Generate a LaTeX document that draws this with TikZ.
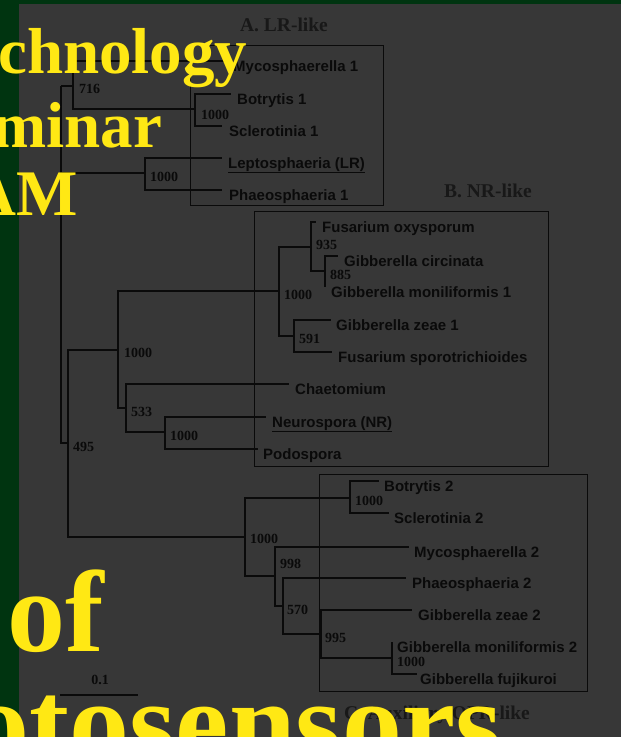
\documentclass[tikz,border=0pt]{standalone}
\usepackage{fontspec}
\setmainfont{Liberation Serif}
\newfontfamily\arialfont{Liberation Sans}
\definecolor{slidegreen}{RGB}{0,52,16}
\definecolor{panelgray}{RGB}{55,55,55}
\definecolor{titleyellow}{RGB}{255,232,20}
\definecolor{inkblack}{RGB}{10,10,10}
\definecolor{labelgray}{RGB}{24,24,24}
\begin{document}
\begin{tikzpicture}[x=1pt,y=-1pt,
  branch/.style={draw=inkblack,line width=1.2pt},
  cladebox/.style={draw=inkblack,line width=1pt},
  taxon/.style={anchor=base west,inner sep=0pt,text=inkblack,font=\arialfont\bfseries\fontsize{15}{18}\selectfont},
  boot/.style={anchor=west,inner sep=0pt,text=inkblack,font=\bfseries\fontsize{14}{16}\selectfont},
  cladename/.style={anchor=base,inner sep=0pt,text=labelgray,font=\bfseries\fontsize{19.5}{22}\selectfont},
  title/.style={anchor=base west,inner sep=0pt,text=titleyellow,font=\bfseries\fontsize{65}{70}\selectfont},
  bigtitle/.style={title,font=\bfseries\fontsize{116}{120}\selectfont}]
\useasboundingbox (0,0) rectangle (621,737);
\fill[slidegreen] (0,0) rectangle (621,737);
\fill[panelgray] (19,4) rectangle (621,737);
\clip (0,0) rectangle (621,737);
% clade boxes
\draw[cladebox] (190,45) rectangle (383,205);
\draw[cladebox] (254,211) rectangle (548,466);
\draw[cladebox] (319,474) rectangle (587,691);
\node[cladename] (nameA) at (284,31) {A. LR-like};
\node[cladename] (nameB) at (488,197) {B. NR-like};
\node[cladename] (nameC) at (437,719) {C. Auxiliary OPR-like};
% inner nodes
\coordinate (root) at (61,86);
\coordinate (n716) at (73,86);
\coordinate (nbs1) at (195,109);
\coordinate (nlep) at (145,173);
\coordinate (n495) at (68,443);
\coordinate (nnr) at (118,350);
\coordinate (nfus) at (279,291);
\coordinate (n935) at (311,247);
\coordinate (n885) at (325,271);
\coordinate (n591) at (294,336);
\coordinate (n533) at (126,408);
\coordinate (nneu) at (165,432);
\coordinate (naux) at (245,537);
\coordinate (nbs2) at (350,498);
\coordinate (n998) at (275,576);
\coordinate (n570) at (283,606);
\coordinate (n995) at (321,634);
\coordinate (ngib) at (392,658);
% tips
\coordinate (myco1) at (229,61);
\coordinate (bot1) at (231,94);
\coordinate (scl1) at (222,126);
\coordinate (lep) at (222,158);
\coordinate (pha1) at (222,190);
\coordinate (fox) at (316,222);
\coordinate (gci) at (338,256);
\coordinate (gmo1) at (325,287);
\coordinate (gze1) at (331,320);
\coordinate (fsp) at (332,352);
\coordinate (cha) at (289,384);
\coordinate (neu) at (266,417);
\coordinate (pod) at (258,449);
\coordinate (bot2) at (379,481);
\coordinate (scl2) at (389,513);
\coordinate (myc2) at (409,547);
\coordinate (pha2) at (406,578);
\coordinate (gze2) at (412,610);
\coordinate (gmo2) at (392,642);
\coordinate (gfu) at (417,674);
% branches
\draw[branch] (root) |- (n716);
\draw[branch] (root) |- (nlep);
\draw[branch] (root) |- (n495);
\draw[branch] (n716) |- (myco1);
\draw[branch] (n716) |- (nbs1);
\draw[branch] (nbs1) |- (bot1);
\draw[branch] (nbs1) |- (scl1);
\draw[branch] (nlep) |- (lep);
\draw[branch] (nlep) |- (pha1);
\draw[branch] (n495) |- (nnr);
\draw[branch] (n495) |- (naux);
\draw[branch] (nnr) |- (nfus);
\draw[branch] (nnr) |- (n533);
\draw[branch] (nfus) |- (n935);
\draw[branch] (nfus) |- (n591);
\draw[branch] (n935) |- (fox);
\draw[branch] (n935) |- (n885);
\draw[branch] (n885) |- (gci);
\draw[branch] (n885) |- (gmo1);
\draw[branch] (n591) |- (gze1);
\draw[branch] (n591) |- (fsp);
\draw[branch] (n533) |- (cha);
\draw[branch] (n533) |- (nneu);
\draw[branch] (nneu) |- (neu);
\draw[branch] (nneu) |- (pod);
\draw[branch] (naux) |- (nbs2);
\draw[branch] (naux) |- (n998);
\draw[branch] (nbs2) |- (bot2);
\draw[branch] (nbs2) |- (scl2);
\draw[branch] (n998) |- (myc2);
\draw[branch] (n998) |- (n570);
\draw[branch] (n570) |- (pha2);
\draw[branch] (n570) |- (n995);
\draw[branch] (n995) |- (gze2);
\draw[branch] (n995) |- (ngib);
\draw[branch] (ngib) |- (gmo2);
\draw[branch] (ngib) |- (gfu);
% taxa
\node[taxon] (tmyco1) at (233,71) {Mycosphaerella 1};
\node[taxon] (tbot1) at (237,104) {Botrytis 1};
\node[taxon] (tscl1) at (229,136) {Sclerotinia 1};
\node[taxon] (tlep) at (228,168) {\underline{Leptosphaeria (LR)}};
\node[taxon] (tpha1) at (229,200) {Phaeosphaeria 1};
\node[taxon] (tfox) at (322,232) {Fusarium oxysporum};
\node[taxon] (tgci) at (344,266) {Gibberella circinata};
\node[taxon] (tgmo1) at (331,297) {Gibberella moniliformis 1};
\node[taxon] (tgze1) at (336,330) {Gibberella zeae 1};
\node[taxon] (tfsp) at (338,362) {Fusarium sporotrichioides};
\node[taxon] (tcha) at (295,394) {Chaetomium};
\node[taxon] (tneu) at (272,427) {\underline{Neurospora (NR)}};
\node[taxon] (tpod) at (263,459) {Podospora};
\node[taxon] (tbot2) at (384,491) {Botrytis 2};
\node[taxon] (tscl2) at (394,523) {Sclerotinia 2};
\node[taxon] (tmyc2) at (414,557) {Mycosphaerella 2};
\node[taxon] (tpha2) at (412,588) {Phaeosphaeria 2};
\node[taxon] (tgze2) at (418,620) {Gibberella zeae 2};
\node[taxon] (tgmo2) at (397,652) {Gibberella moniliformis 2};
\node[taxon] (tgfu) at (420,684) {Gibberella fujikuroi};
% bootstrap values
\node[boot] (b716) at (79,89) {716};
\node[boot] (bbs1) at (201,115) {1000};
\node[boot] (blep) at (150,177) {1000};
\node[boot] (b495) at (73,447) {495};
\node[boot] (bnr) at (124,353) {1000};
\node[boot] (bfus) at (284,295) {1000};
\node[boot] (b935) at (316,245) {935};
\node[boot] (b885) at (330,275) {885};
\node[boot] (b591) at (299,339) {591};
\node[boot] (b533) at (131,412) {533};
\node[boot] (bneu) at (170,436) {1000};
\node[boot] (baux) at (250,539) {1000};
\node[boot] (bbs2) at (355,501) {1000};
\node[boot] (b998) at (280,564) {998};
\node[boot] (b570) at (287,610) {570};
\node[boot] (b995) at (325,638) {995};
\node[boot] (bgib) at (397,662) {1000};
% scale bar
\coordinate (sbleft) at (60,695);
\coordinate (sbright) at (138,695);
\draw[branch] (sbleft) -- (sbright);
\node[boot,anchor=base] (sblabel) at (100,684) {0.1};
% slide title on top
\node[title] (ttech) at (-2,73) {chnology};
\node[title] (tsem) at (-8,147) {minar};
\node[title,anchor=base east] (tam) at (78,215) {AM};
\node[bigtitle] (tof) at (7,651) {of};
\node[bigtitle,font=\bfseries\fontsize{120}{124}\selectfont] (tphoto) at (-31,763) {otosensors};
\end{tikzpicture}
\end{document}
